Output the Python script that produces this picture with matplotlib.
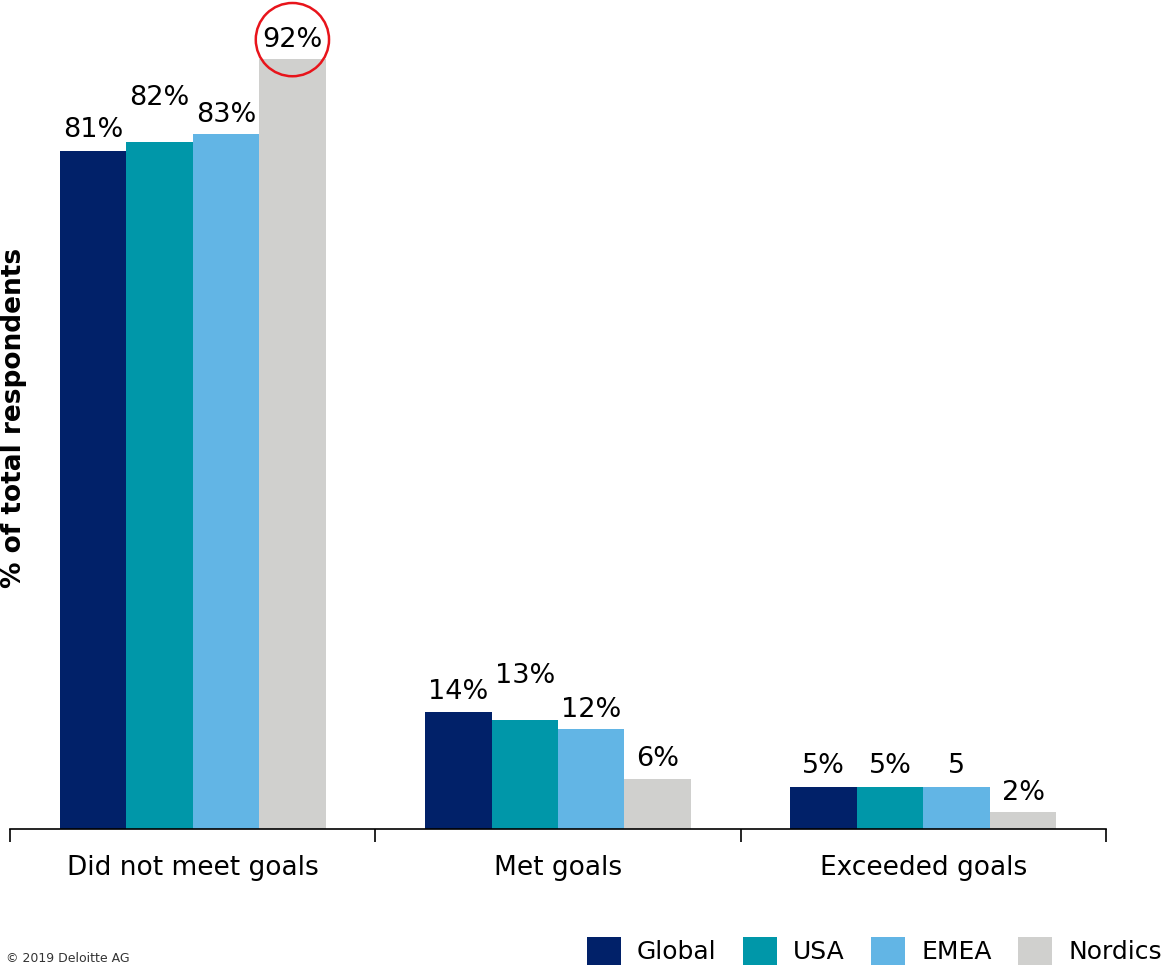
import matplotlib
matplotlib.use("Agg")
import matplotlib.pyplot as plt
import numpy as np

# Survey results: share of respondents by outcome and region
categories = ["Did not meet goals", "Met goals", "Exceeded goals"]
regions = ["Global", "USA", "EMEA", "Nordics"]
values = {
    "Global":  [81, 14, 5],
    "USA":     [82, 13, 5],
    "EMEA":    [83, 12, 5],
    "Nordics": [92, 6, 2],
}
value_labels = {
    "Global":  ["81%", "14%", "5%"],
    "USA":     ["82%", "13%", "5%"],
    "EMEA":    ["83%", "12%", "5"],
    "Nordics": ["92%", "6%", "2%"],
}
colors = {
    "Global": "#012169",
    "USA": "#0097A9",
    "EMEA": "#62B5E5",
    "Nordics": "#D0D0CE",
}
# label lift above the bar top (pixels); some are raised to avoid collisions
label_lift = {
    "Global":  [21, 20, 21],
    "USA":     [44, 44, 21],
    "EMEA":    [19, 19, 21],
    "Nordics": [19, 20, 19],
}

plt.rcParams["font.family"] = ["DejaVu Sans"]

W, H = 1162, 966
fig = plt.figure(figsize=(W / 100, H / 100), dpi=100)
ax = fig.add_axes([10 / W, (H - 829) / H, (1106 - 10) / W, 829 / H])

x = np.arange(len(categories))
bar_w = 0.182
offsets = (np.arange(len(regions)) - 1.5) * bar_w

for i, reg in enumerate(regions):
    bars = ax.bar(x + offsets[i], values[reg], width=bar_w, color=colors[reg],
                  label=reg, edgecolor="none", zorder=2)
    for j, b in enumerate(bars):
        top = b.get_height()
        kw = {}
        if reg == "Nordics" and j == 0:
            kw["bbox"] = dict(boxstyle="circle,pad=0.24", fc="none",
                              ec="#E8141B", lw=1.8)
        ax.annotate(value_labels[reg][j],
                    xy=(b.get_x() + b.get_width() / 2, top),
                    xytext=(0, label_lift[reg][j] * 0.72),
                    textcoords="offset points", ha="center", va="center",
                    fontsize=19.5, color="#000000", annotation_clip=False, **kw)

ax.set_xlim(-0.5, len(categories) - 0.5)
ax.set_ylim(0, 99)

# category labels centred under groups, tick marks at group boundaries
ax.set_xticks(np.arange(len(categories) + 1) - 0.5)
ax.set_xticklabels([])
ax.tick_params(axis="x", direction="out", length=9, width=1.2, color="#000000")
for j, c in enumerate(categories):
    ax.text(x[j], -4.6, c, ha="center", va="center", fontsize=19,
            transform=ax.transData)

ax.set_yticks([])
for s in ["top", "right", "left"]:
    ax.spines[s].set_visible(False)
ax.spines["bottom"].set_linewidth(1.2)

fig.text(14 / W, 1 - 418 / H, "% of total respondents", rotation=90,
         ha="center", va="center", fontsize=19, fontweight="bold")

fig.legend(loc="center right", bbox_to_anchor=(1.0, 1 - 951 / H),
           ncol=4, frameon=False, fontsize=18, borderpad=0, borderaxespad=0,
           handlelength=1.35, handleheight=1.3, handletextpad=0.66,
           columnspacing=1.05)

fig.text(6 / W, 1 / H, "© 2019 Deloitte AG", ha="left", va="bottom",
         fontsize=9, color="#333333")

fig.savefig("out.png", dpi=100)
